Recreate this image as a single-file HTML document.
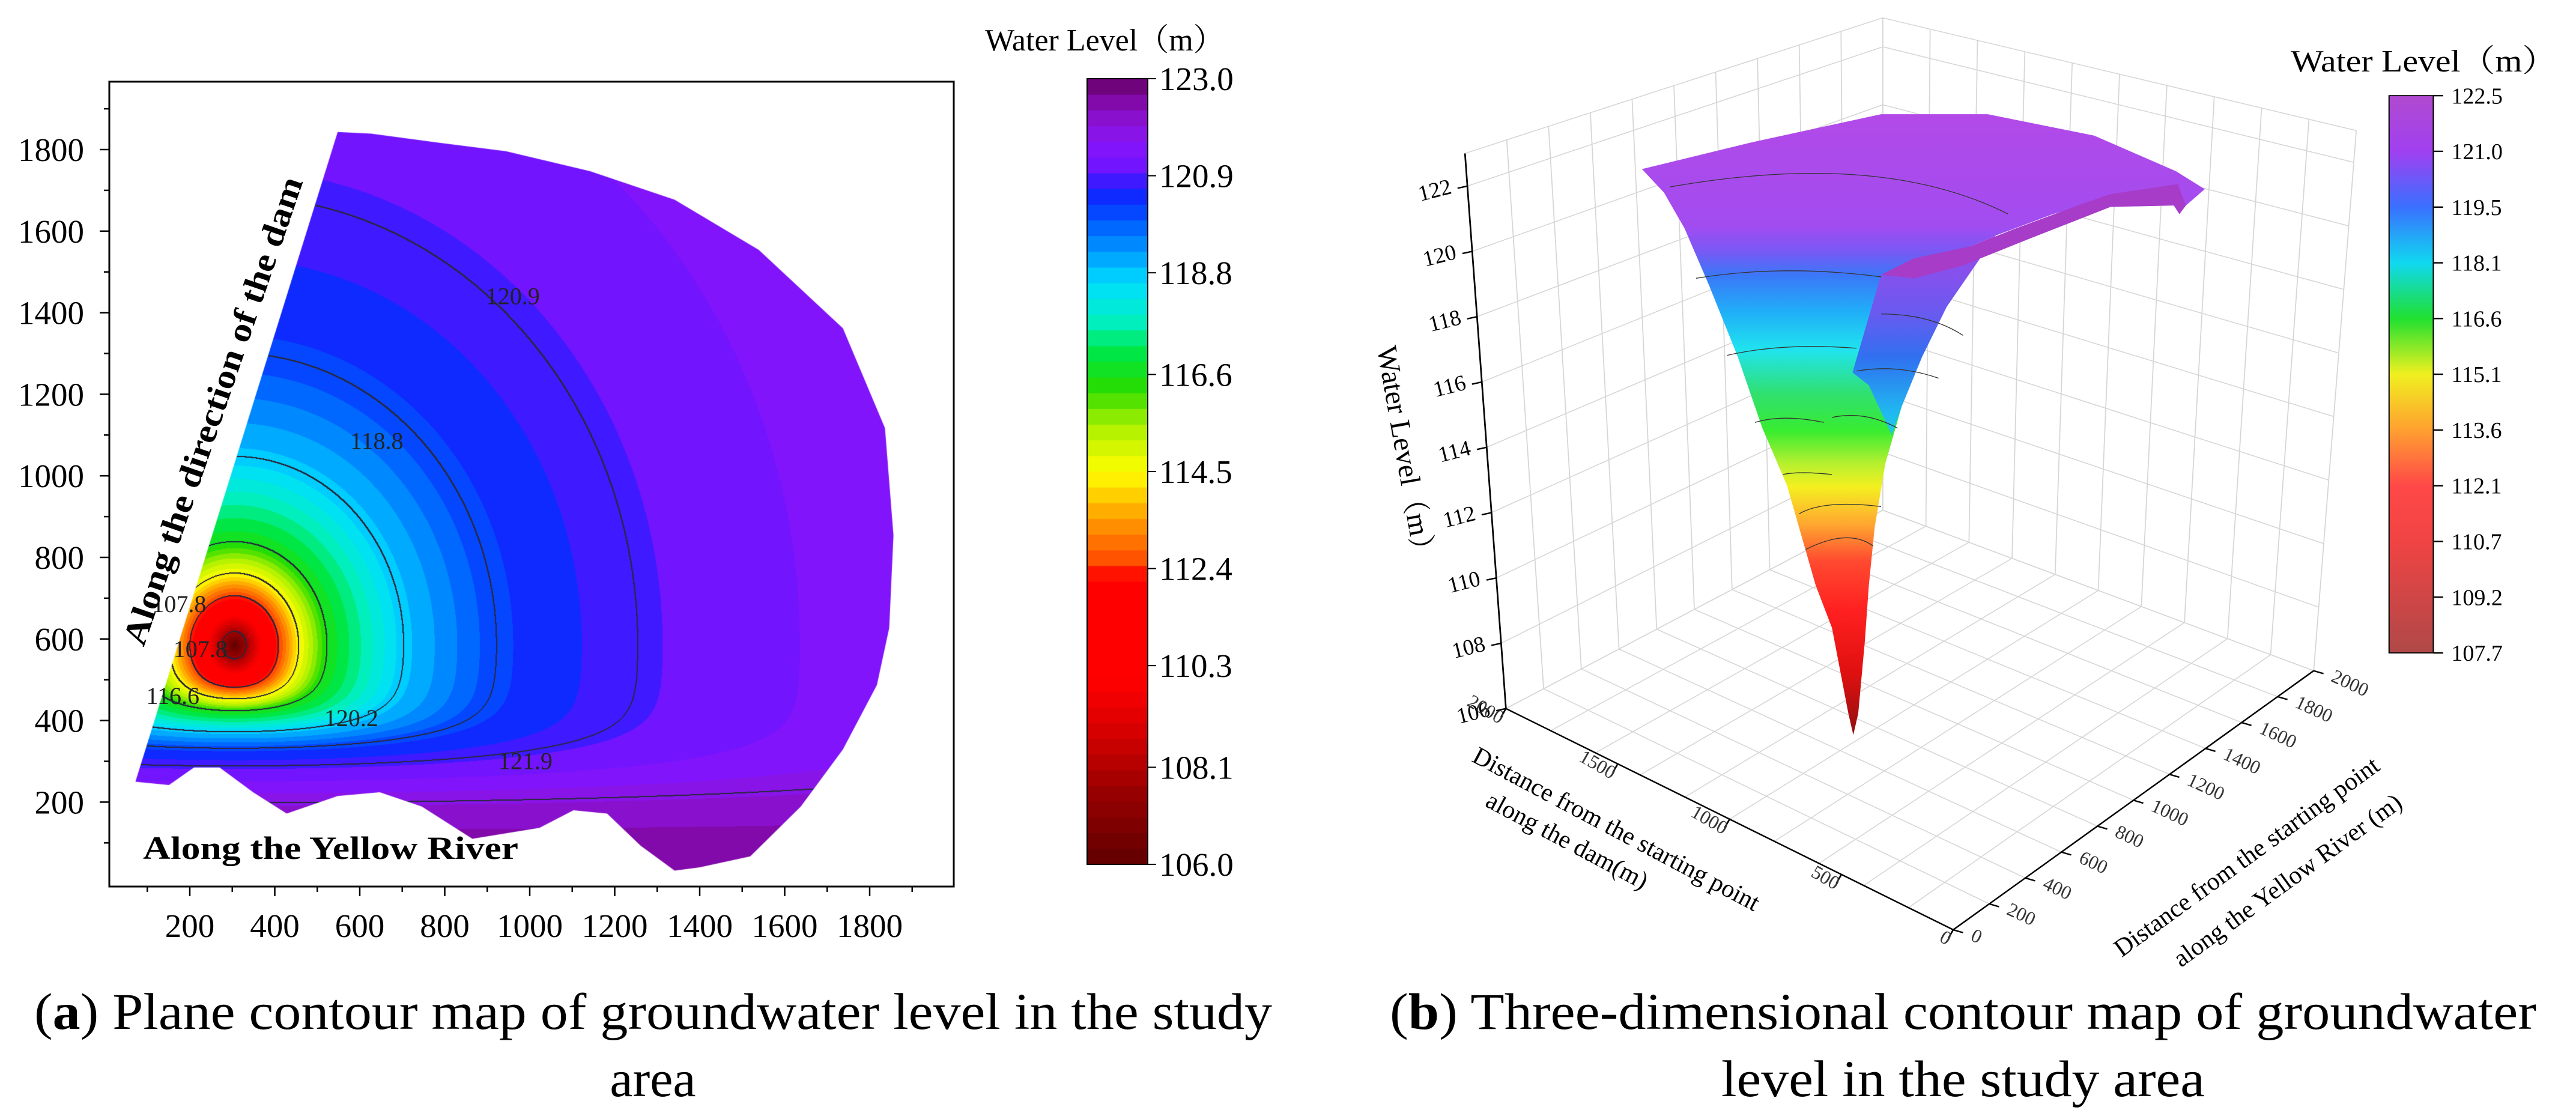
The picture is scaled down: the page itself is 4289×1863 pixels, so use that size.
<!DOCTYPE html>
<html><head><meta charset="utf-8">
<style>
html,body{margin:0;padding:0;background:#fff;}
#wrap{position:relative;width:4289px;height:1863px;overflow:hidden;background:#fff;font-family:"Liberation Serif","Noto Serif CJK SC",serif;}
canvas{position:absolute;left:0;top:0;}
svg{position:absolute;left:0;top:0;}
</style></head>
<body>
<div id="wrap">
<canvas id="cv" width="4289" height="1863"></canvas>
<svg id="sv" width="4289" height="1863" viewBox="0 0 4289 1863" xmlns="http://www.w3.org/2000/svg" font-family="Liberation Serif, Noto Serif CJK SC, serif"></svg>
</div>
<script>
// ===== data: plane contour map =====
const boundaryX=[72,548,627,785,944,1142,1341,1539,1737,1836,1856,1846,1817,1737,1638,1519,1400,1341,1261,1182,1103,1023,865,746,647,548,428,349,270,210,151];
const boundaryY=[250,1843,1839,1817,1796,1747,1677,1554,1362,1117,854,627,487,329,189,67,40,32,93,172,180,137,110,189,224,215,172,224,285,285,242];
const radiusSteps=[0,0.03,0.1,0.16,0.23,0.42,0.65,1.0,1.6,2.5,4.0];
const levelSteps=[106,107.8,112,114.5,116.6,118.8,120.2,120.9,121.5,122.1,122.4];
const contourLevels=[107.8,112.4,114.5,116.6,118.8,120.2,120.9,121.9];
const contourLabelText=["120.9","118.8","107.8","107.8","116.6","120.2","121.9"];
const contourLabelX=[960,640,175,225,160,580,990];
const contourLabelY=[1440,1085,685,575,460,405,300];
const xTicks=[200,400,600,800,1000,1200,1400,1600,1800];
const yTicks=[200,400,600,800,1000,1200,1400,1600,1800];
const cbarTicks=[123.0,120.9,118.8,116.6,114.5,112.4,110.3,108.1,106.0];
const cmapV=[106,107.5,109,110,112.2,112.6,113.5,114.5,115.5,116.3,117,117.8,118.6,119.3,120.0,120.6,121.0,121.5,122.0,122.5,123];
const cmapC=[[96,0,0],[150,0,0],[220,0,0],[255,0,0],[255,0,0],[255,80,0],[255,160,0],[255,255,0],[170,240,0],[40,220,0],[0,230,60],[0,240,200],[0,220,255],[0,150,255],[0,80,255],[20,30,255],[110,20,255],[130,20,250],[140,20,220],[130,10,170],[100,0,100]];
// ===== data: 3D view =====
const zTicks=[106,108,110,112,114,116,118,120,122];
const damTicks=[2000,1500,1000,500,0];
const riverTicks=[0,200,400,600,800,1000,1200,1400,1600,1800,2000];
const cbar3Ticks=["122.5","121.0","119.5","118.1","116.6","115.1","113.6","112.1","110.7","109.2","107.7"];

const NS="http://www.w3.org/2000/svg";
const sv=document.getElementById('sv');
function mk(tag,attrs,parent,name){const e=document.createElementNS(NS,tag);for(const k in attrs)e.setAttribute(k,attrs[k]);


(parent||sv).appendChild(e);return e;}
function txt(s,attrs,parent,name){const e=mk('text',attrs,parent,name);e.textContent=s;return e;}

const X0=182,X1=1588,Y0=136,Y1=1476;
function sx(v){return 316+(v-200)*0.7075;}
function sy(v){return 249+(1800-v)*0.679;}
function cmap(v){if(v<=cmapV[0])return cmapC[0];for(let i=1;i<cmapV.length;i++){if(v<=cmapV[i]){const t=(v-cmapV[i-1])/(cmapV[i]-cmapV[i-1]);const a=cmapC[i-1],b=cmapC[i];return [a[0]+(b[0]-a[0])*t,a[1]+(b[1]-a[1])*t,a[2]+(b[2]-a[2])*t];}}return cmapC[cmapC.length-1];}
function interpL(r){for(let i=1;i<radiusSteps.length;i++){if(r<=radiusSteps[i]){const t=(r-radiusSteps[i-1])/(radiusSteps[i]-radiusSteps[i-1]);return levelSteps[i-1]+(levelSteps[i]-levelSteps[i-1])*t;}}return levelSteps[levelSteps.length-1];}
function field(x,y){const cx=305,cy=585;const dx=(x-cx)/950;let dy;
 if(y>=cy){dy=(y-cy)/1100;}else{const d=cy-y;const g=d*(1+Math.pow(d/194,2.48));dy=g/1150;}
 return interpL(Math.sqrt(dx*dx+dy*dy));}
const NB=50,bandW=17/NB;
function bandColor(v){let k=Math.floor((v-106)/bandW);k=Math.max(0,Math.min(NB-1,k));return cmap(106+(k+0.5)*bandW);}
const CB0=1810,CBW=101,CBY0=131,CBY1=1439;

(function(){
 const W=X1-X0,H=Y1-Y0;const off=document.createElement('canvas');off.width=W;off.height=H;
 const oc=off.getContext('2d');const img=oc.createImageData(W,H);const L=new Float32Array(W*H);
 for(let j=0;j<H;j++){const dy=1800-(Y0+j-249)/0.679;for(let i=0;i<W;i++){const dx=200+(X0+i-316)/0.7075;L[j*W+i]=field(dx,dy);}}
 function cidx(v){let c=0;for(const l of contourLevels)if(v>=l)c++;return c;}
 for(let j=0;j<H;j++)for(let i=0;i<W;i++){const p=j*W+i;const v=L[p];let c=bandColor(v);
  const a=cidx(v);let line=false;
  if(i+1<W&&cidx(L[p+1])!==a)line=true;if(j+1<H&&cidx(L[p+W])!==a)line=true;
  if(i+2<W&&cidx(L[p+2])!==a)line=true;if(j+2<H&&cidx(L[p+2*W])!==a)line=true;
  if(line)c=[40,40,60];
  img.data[p*4]=c[0];img.data[p*4+1]=c[1];img.data[p*4+2]=c[2];img.data[p*4+3]=255;}
 oc.putImageData(img,0,0);
 const ctx=document.getElementById('cv').getContext('2d');ctx.save();ctx.beginPath();
 for(let k=0;k<boundaryX.length;k++){const px=sx(boundaryX[k]),py=sy(boundaryY[k]);if(k===0)ctx.moveTo(px,py);else ctx.lineTo(px,py);}
 ctx.closePath();ctx.clip();ctx.drawImage(off,X0,Y0);ctx.restore();
 for(let k=0;k<NB;k++){const v=106+(k+0.5)*bandW;const c=cmap(v);ctx.fillStyle='rgb('+c.map(Math.round).join(',')+')';
  const ya=CBY1-(k+1)/NB*(CBY1-CBY0),yb=CBY1-k/NB*(CBY1-CBY0);ctx.fillRect(CB0,ya-0.5,CBW,yb-ya+1);}
})();

const gA=mk('g',{},sv,'plane-contour-plot');
mk('rect',{x:X0,y:Y0,width:X1-X0,height:Y1-Y0,fill:'none',stroke:'#000','stroke-width':3},gA,'plot-frame');
for(let v=100;v<=1900;v+=100){const y=sy(v);if(y<Y0||y>Y1)continue;const major=v%200===0;
 mk('line',{x1:X0,x2:X0-(major?16:9),y1:y,y2:y,stroke:'#000','stroke-width':2.5},gA,'y-tick');}
for(const v of yTicks){txt(String(v),{x:140,y:sy(v)+19,'font-size':55,'text-anchor':'end'},gA,'y-tick-label');}
for(let v=100;v<=1900;v+=100){const x=sx(v);if(x<X0||x>X1)continue;const major=v%200===0;
 mk('line',{x1:x,x2:x,y1:Y1,y2:Y1+(major?16:9),stroke:'#000','stroke-width':2.5},gA,'x-tick');}
for(const v of xTicks){txt(String(v),{x:sx(v),y:1560,'font-size':55,'text-anchor':'middle'},gA,'x-tick-label');}
for(let k=0;k<contourLabelText.length;k++){txt(contourLabelText[k],{x:sx(contourLabelX[k]),y:sy(contourLabelY[k])+13,'font-size':40,'text-anchor':'middle',fill:'#222'},gA,'contour-label');}
txt('Along the direction of the dam',{x:0,y:0,'font-size':56,'font-weight':'bold','text-anchor':'middle',transform:'translate(372,690) rotate(-71.1)',textLength:820,lengthAdjust:'spacingAndGlyphs'},gA,'dam-direction-label');
txt('Along the Yellow River',{x:238,y:1430,'font-size':54,'font-weight':'bold',textLength:625,lengthAdjust:'spacingAndGlyphs'},gA,'yellow-river-label');
mk('rect',{x:CB0,y:CBY0,width:CBW,height:CBY1-CBY0,fill:'none',stroke:'#000','stroke-width':2},gA,'colorbar-frame');
cbarTicks.forEach(v=>{const y=CBY1-(v-106)/17*(CBY1-CBY0);mk('line',{x1:CB0+CBW,x2:CB0+CBW+14,y1:y,y2:y,stroke:'#000','stroke-width':2},gA,'colorbar-tick');
 txt(v.toFixed(1),{x:1930,y:y+19,'font-size':55},gA,'colorbar-tick-label');});
txt('Water Level（m）',{x:1640,y:84,'font-size':52},gA,'colorbar-title');
const capA=mk('text',{x:57,y:1713,'font-size':86,textLength:2061,lengthAdjust:'spacingAndGlyphs'},gA,'caption-a-line1');
capA.innerHTML='(<tspan font-weight="bold">a</tspan>) Plane contour map of groundwater level in the study';
txt('area',{x:1087,y:1825,'font-size':86,'text-anchor':'middle'},gA,'caption-a-line2');

const SXF=1.364,SYF=1.188,OX=2150;
function P(x,y){return [OX+SXF*x,SYF*y];}
const gB=mk('g',{transform:`translate(${OX},0) scale(${SXF},${SYF})`},sv,'surface-3d-plot');
const gT=mk('g',{},sv,'surface-3d-labels');
function lerp(a,b,t){return [a[0]+(b[0]-a[0])*t,a[1]+(b[1]-a[1])*t];}
const FL=[262,993],FB=[722,715],FR=[1248,940],FF=[808,1303],TL=[212,215],TB=[722,25],TR=[1300,183];
const wallStyle={fill:'none',stroke:'#d6d6d6','stroke-width':1.3};
function seg(p,q,g,st,name){mk('line',Object.assign({x1:p[0],y1:p[1],x2:q[0],y2:q[1]},st),g,name);}
const zScale=v=>(v-106)/(123-106);
for(let k=0;k<=10;k++){const u=k/10;seg(lerp(FL,FB,u),lerp(TL,TB,u),gB,wallStyle,'left-wall-grid');}
for(const z of zTicks.concat([123])){const h=zScale(z);seg(lerp(FL,TL,h),lerp(FB,TB,h),gB,wallStyle,'left-wall-grid');}
for(let k=0;k<=10;k++){const u=k/10;seg(lerp(FB,FR,u),lerp(TB,TR,u),gB,wallStyle,'right-wall-grid');}
for(const z of zTicks.concat([123])){const h=zScale(z);seg(lerp(FB,TB,h),lerp(FR,TR,h),gB,wallStyle,'right-wall-grid');}
for(let k=0;k<=10;k++){const u=k/10;seg(lerp(FL,FB,u),lerp(FF,FR,u),gB,wallStyle,'floor-grid');seg(lerp(FL,FF,u),lerp(FB,FR,u),gB,wallStyle,'floor-grid');}
const axStyle={stroke:'#000','stroke-width':2};
seg(FL,TL,gB,axStyle,'z-axis');seg(FL,FF,gB,axStyle,'dam-axis');seg(FF,FR,gB,axStyle,'river-axis');
zTicks.forEach(z=>{const p=lerp(FL,TL,zScale(z));seg(p,[p[0]-12,p[1]+3],gB,axStyle,'z-tick');
 const q=P(p[0]-18,p[1]+10);txt(String(z),{x:0,y:0,'font-size':37,'text-anchor':'end',transform:`translate(${q[0]},${q[1]}) rotate(-14)`},gT,'z-tick-label');});
damTicks.forEach(v=>{const p=lerp(FL,FF,(2000-v)/2000);seg(p,[p[0]-6,p[1]+12],gB,axStyle,'dam-tick');
 const q=P(p[0]-8,p[1]+22);txt(String(v),{x:0,y:0,'font-size':32,'text-anchor':'end',transform:`translate(${q[0]},${q[1]}) rotate(30)`,fill:'#333'},gT,'dam-tick-label');});
riverTicks.forEach(v=>{const p=lerp(FF,FR,v/2000);seg(p,[p[0]+12,p[1]+4],gB,axStyle,'river-tick');
 const q=P(p[0]+20,p[1]+14);txt(String(v),{x:0,y:0,'font-size':32,transform:`translate(${q[0]},${q[1]}) rotate(25)`,fill:'#333'},gT,'river-tick-label');});
let q;
q=P(128,640);txt('Water Level（m）',{x:0,y:0,'font-size':48,'text-anchor':'middle',transform:`translate(${q[0]},${q[1]}) rotate(80)`},gT,'z-axis-title');
q=P(392,1172);txt('Distance from the starting point',{x:0,y:0,'font-size':42,'text-anchor':'middle',transform:`translate(${q[0]},${q[1]}) rotate(28)`},gT,'dam-axis-title');
q=P(332,1188);txt('along the dam(m)',{x:0,y:0,'font-size':42,'text-anchor':'middle',transform:`translate(${q[0]},${q[1]}) rotate(28)`},gT,'dam-axis-title-line2');
q=P(1172,1210);txt('Distance from the starting point',{x:0,y:0,'font-size':42,'text-anchor':'middle',transform:`translate(${q[0]},${q[1]}) rotate(-36)`},gT,'river-axis-title');
q=P(1222,1243);txt('along the Yellow River (m)',{x:0,y:0,'font-size':42,'text-anchor':'middle',transform:`translate(${q[0]},${q[1]}) rotate(-36)`},gT,'river-axis-title-line2');
const defs=mk('defs',{},sv,'defs');
defs.innerHTML=`<linearGradient id="gs" gradientUnits="userSpaceOnUse" x1="0" y1="160" x2="0" y2="1030">
<stop offset="0" stop-color="#b24ae8"/><stop offset="0.18" stop-color="#a24cf0"/><stop offset="0.22" stop-color="#7a58f4"/>
<stop offset="0.26" stop-color="#3a78f8"/><stop offset="0.32" stop-color="#20b0f8"/><stop offset="0.38" stop-color="#20e4ee"/>
<stop offset="0.45" stop-color="#30e070"/><stop offset="0.51" stop-color="#38ec30"/><stop offset="0.56" stop-color="#b0f030"/>
<stop offset="0.6" stop-color="#f4f020"/><stop offset="0.66" stop-color="#ffa830"/><stop offset="0.72" stop-color="#ff4a30"/>
<stop offset="0.8" stop-color="#ff2020"/><stop offset="0.9" stop-color="#e01010"/><stop offset="1" stop-color="#901010"/></linearGradient>
<linearGradient id="gi" gradientUnits="userSpaceOnUse" x1="0" y1="330" x2="0" y2="640">
<stop offset="0" stop-color="#a048e8"/><stop offset="0.35" stop-color="#6a5af0"/><stop offset="0.55" stop-color="#3070f0"/>
<stop offset="0.8" stop-color="#20b8f0"/><stop offset="1" stop-color="#20e0d0"/></linearGradient>
<linearGradient id="gc" x1="0" y1="0" x2="0" y2="1"><stop offset="0" stop-color="#b04ad0"/><stop offset="0.1" stop-color="#a040f0"/>
<stop offset="0.2" stop-color="#3a70ff"/><stop offset="0.3" stop-color="#10d8f0"/><stop offset="0.4" stop-color="#20e030"/>
<stop offset="0.5" stop-color="#f0f020"/><stop offset="0.6" stop-color="#ffa030"/><stop offset="0.7" stop-color="#ff4848"/>
<stop offset="0.8" stop-color="#f04444"/><stop offset="1" stop-color="#b04848"/></linearGradient>`;
mk('path',{d:'M428,237 L560,200 L720,160 L850,160 L980,190 L1080,240 L1115,265 L1092,288 L1084,300 L1076,286 L1000,276 L930,300 L860,330 L820,350 L800,420 L770,490 L745,570 L725,650 L712,740 L705,820 L700,900 L692,1000 L686,1030 L680,1000 L660,880 L640,820 L625,760 L605,680 L575,600 L545,500 L510,400 L480,320 L455,270 Z',fill:'url(#gs)'},gB,'funnel-surface');
mk('path',{d:'M720,385 L760,362 L830,345 L860,330 L830,380 L800,430 L770,500 L745,570 L733,610 L705,540 L685,522 Z',fill:'url(#gi)'},gB,'funnel-inner-face');
mk('path',{d:'M720,385 L760,362 L830,345 L880,322 L960,288 L1000,272 L1082,258 L1092,288 L1084,300 L1078,288 L1000,290 L900,335 L820,372 L760,390 Z',fill:'#a63cc8'},gB,'funnel-cut-edge');
const cl={fill:'none',stroke:'#333','stroke-width':1.1};
['M462,262 Q720,210 875,300','M494,390 Q600,370 720,388','M532,498 Q600,480 690,488','M566,592 Q600,580 650,592','M600,665 Q620,660 660,665','M620,720 Q650,700 720,710','M628,770 Q680,740 710,765','M720,440 Q780,440 820,470','M690,520 Q740,510 790,530','M660,585 Q700,575 740,600'].forEach(d=>mk('path',Object.assign({d:d},cl),gB,'contour-line-3d'));
mk('rect',{x:1340,y:134,width:54,height:781,fill:'url(#gc)',stroke:'#000','stroke-width':1.5},gB,'colorbar-3d');
cbar3Ticks.forEach((s,i)=>{const y=134+i*78.1;seg([1394,y],[1406,y],gB,axStyle,'colorbar-3d-tick');
 const p=P(1416,y+11);txt(s,{x:p[0],y:p[1],'font-size':38},gT,'colorbar-3d-tick-label');});
q=P(1220,100);txt('Water Level（m）',{x:q[0],y:q[1],'font-size':52,textLength:443,lengthAdjust:'spacingAndGlyphs'},gT,'colorbar-3d-title');
const capB=mk('text',{x:2314,y:1713,'font-size':86,textLength:1909,lengthAdjust:'spacingAndGlyphs'},sv,'caption-b-line1');
capB.innerHTML='(<tspan font-weight="bold">b</tspan>) Three-dimensional contour map of groundwater';
txt('level in the study area',{x:2866,y:1825,'font-size':86,textLength:805,lengthAdjust:'spacingAndGlyphs'},sv,'caption-b-line2');
</script>
</body></html>
